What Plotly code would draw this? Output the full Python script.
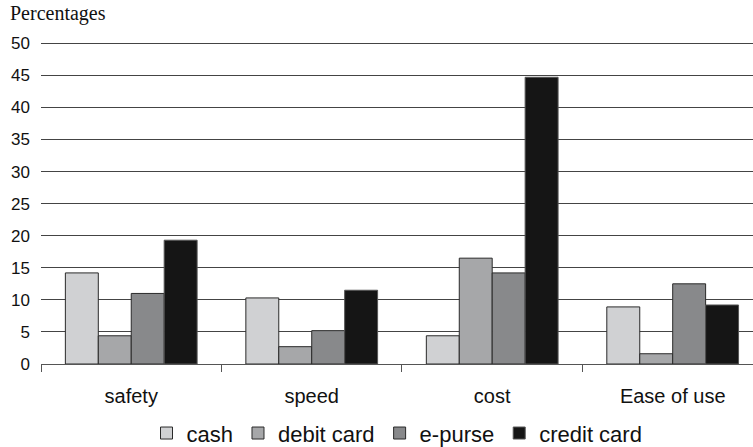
import plotly.graph_objects as go

categories = ["safety", "speed", "cost", "Ease of use"]
cash = [14.2, 10.3, 4.4, 8.9]
debit_card = [4.4, 2.7, 16.5, 1.6]
e_purse = [11.0, 5.2, 14.2, 12.5]
credit_card = [19.3, 11.5, 44.7, 9.2]
y_ticks = [0, 5, 10, 15, 20, 25, 30, 35, 40, 45, 50]

series = [
    ("cash", cash, "#d0d1d3", "#2a2a2a"),
    ("debit card", debit_card, "#a6a7a9", "#2a2a2a"),
    ("e-purse", e_purse, "#88898b", "#2a2a2a"),
    ("credit card", credit_card, "#151515", "#555555"),
]

fig = go.Figure()
for name, vals, col, line in series:
    fig.add_trace(go.Bar(
        name=name, x=categories, y=vals,
        marker=dict(color=col, line=dict(color=line, width=1)),
    ))

fig.update_layout(
    width=753, height=447,
    margin=dict(l=41, r=0, t=42, b=83, autoexpand=False),
    plot_bgcolor="white", paper_bgcolor="white",
    barmode="group", bargap=0.27, bargroupgap=0,
    font=dict(family="Liberation Sans, Arial, sans-serif", size=17, color="#111"),
    showlegend=True,
    legend=dict(orientation="h", x=0.5, xanchor="center", y=-0.215, yanchor="middle",
                font=dict(size=22), itemwidth=30, traceorder="normal",
                tracegroupgap=0),
    annotations=[dict(text="Percentages", xref="paper", yref="paper", x=-0.047, y=1.09,
                      xanchor="left", yanchor="middle", showarrow=False,
                      font=dict(family="Liberation Serif, Times New Roman, serif", size=20, color="#111"))],
)
fig.update_xaxes(
    range=[-0.5, 3.445], showline=True, linecolor="#555", linewidth=1,
    ticks="outside", tickson="boundaries", ticklen=7, tickcolor="#555",
    showgrid=False, ticklabelstandoff=14, tickfont=dict(size=20),
)
fig.update_yaxes(
    range=[0, 50.2], tickvals=y_ticks, showgrid=True, gridcolor="#444", gridwidth=1,
    zeroline=False, showline=False, ticks="", ticklabelstandoff=10,
)

fig.write_html("out.html", config={"displayModeBar": False})

# remove the browser's default page margin so the figure fills the window exactly
with open("out.html", "r", encoding="utf-8") as f:
    html = f.read()
html = html.replace("<head>", "<head><style>html,body{margin:0;padding:0;overflow:hidden;}</style>", 1)
with open("out.html", "w", encoding="utf-8") as f:
    f.write(html)
